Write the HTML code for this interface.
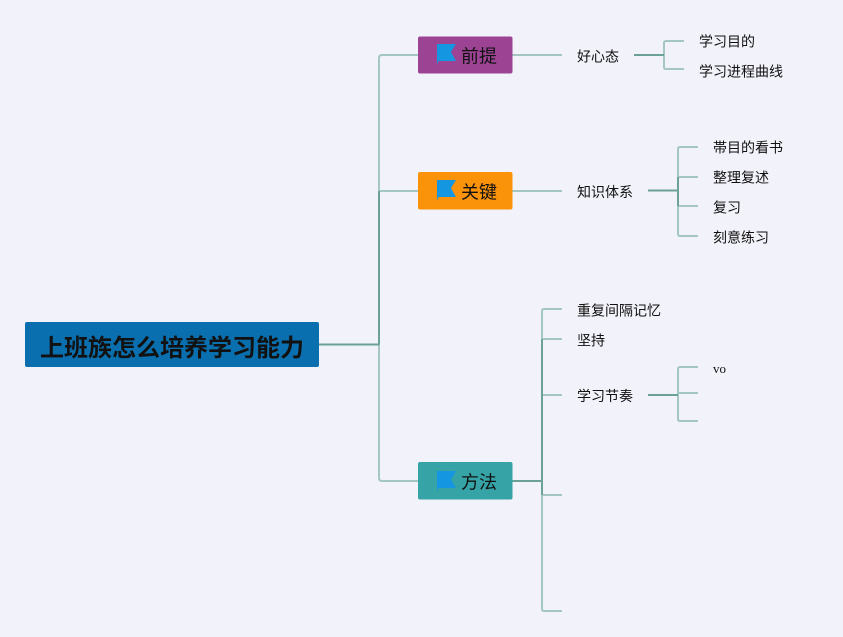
<!DOCTYPE html>
<html>
<head>
<meta charset="utf-8">
<style>
html,body{margin:0;padding:0;background:#f2f2fa;}
svg{display:block;}
text{font-family:"Liberation Sans","Noto Sans CJK SC",sans-serif;fill:#111;}
.s{font-size:14px;}
.m{font-size:18px;}
</style>
</head>
<body>
<svg width="843" height="637" viewBox="0 0 843 637" xmlns="http://www.w3.org/2000/svg">
<rect width="843" height="637" fill="#f2f2fa"/>
<g fill="none" stroke="#a5c7c3" stroke-width="2">
<path d="M418 55H382Q379 55 379 58V478Q379 481 382 481H418"/>
<path d="M379 191H418"/>
<path d="M512 55H562"/>
<path d="M512 191H562"/>
<path d="M684 41H666Q664 41 664 43V67Q664 69 666 69H684"/>
<path d="M698 147H680Q678 147 678 149V234Q678 236 680 236H698"/>
<path d="M678 177H698M678 206H698"/>
<path d="M562 309H544Q542 309 542 311V609Q542 611 544 611H562"/>
<path d="M542 339H562M542 395H562M542 495H562"/>
<path d="M698 367H680Q678 367 678 369V419Q678 421 680 421H698"/>
<path d="M678 393H698"/>
</g>
<g fill="none" stroke="#6ba196" stroke-width="2">
<path d="M319 344.500H379"/>
<path d="M379 191V344.500"/>
<path d="M512 481H542"/>
<path d="M542 339V495"/>
<path d="M634 55H664"/>
<path d="M648 190.500H678"/>
<path d="M678 177V206"/>
<path d="M648 395H678"/>
</g>
<rect x="25" y="322" width="294" height="45" rx="2" fill="#0a6fae"/>
<text x="40" y="356" font-size="24" font-weight="700">上班族怎么培养学习能力</text>
<g>
<rect x="418" y="36.500" width="94.500" height="37" rx="2" fill="#9c4393"/>
<path d="M437 44H456L451 52L456 61H438.500L437 65Z" fill="#1596e0"/>
<text class="m" x="461" y="62.500">前提</text>
</g>
<g>
<rect x="418" y="172" width="94.500" height="37.500" rx="2" fill="#fb930a"/>
<path d="M437 180H456L451 188L456 197H438.500L437 201Z" fill="#1596e0"/>
<text class="m" x="461" y="198.500">关键</text>
</g>
<g>
<rect x="418" y="462" width="94.500" height="37.500" rx="2" fill="#36a3a6"/>
<path d="M437 471H456L451 479.500L456 488H438.500L437 491Z" fill="#1596e0"/>
<text class="m" x="461" y="488.500">方法</text>
</g>
<text class="s" x="577" y="61.500">好心态</text>
<text class="s" x="699" y="46.500">学习目的</text>
<text class="s" x="699" y="76.500">学习进程曲线</text>
<text class="s" x="577" y="197">知识体系</text>
<text class="s" x="713" y="152.500">帯目的看书</text>
<text class="s" x="713" y="182.500">整理复述</text>
<text class="s" x="713" y="212.500">复习</text>
<text class="s" x="713" y="242.500">刻意练习</text>
<text class="s" x="577" y="315.500">重复间隔记忆</text>
<text class="s" x="577" y="345.500">坚持</text>
<text class="s" x="577" y="401">学习节奏</text>
<text x="713" y="373" font-size="13" style="font-family:'Liberation Serif',serif">vo</text>
</svg>
</body>
</html>
